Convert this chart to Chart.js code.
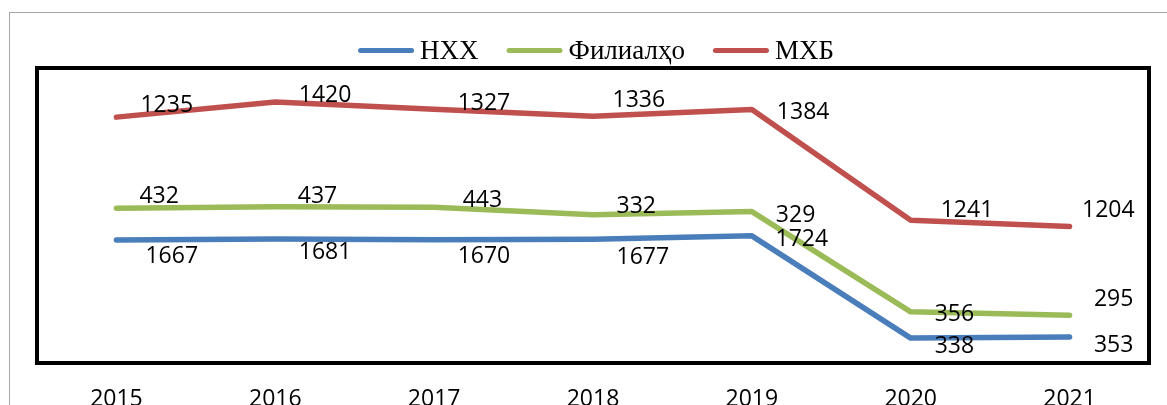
<!DOCTYPE html>
<html>
<head>
<meta charset="utf-8">
<script src="https://cdn.jsdelivr.net/npm/chart.js@4/dist/chart.umd.min.js"></script>
<style>
  html, body { margin: 0; padding: 0; background: #ffffff; }
  #wrap { width: 1167px; height: 405px; position: relative; }
</style>
</head>
<body>
<div id="wrap"><canvas id="c" width="1167" height="405"></canvas></div>
<script>
// ---- data ----
const categories = ['2015', '2016', '2017', '2018', '2019', '2020', '2021'];
const seriesNames = ['НХХ', 'Филиалҳо', 'МХБ'];
const nhhValues = [1667, 1681, 1670, 1677, 1724, 338, 353];
const filialValues = [432, 437, 443, 332, 329, 356, 295];
const mhbValues = [1235, 1420, 1327, 1336, 1384, 1241, 1204];
const yMin = 0;
const yMax = 4000;

// ---- styling ----
const colors = ['#4A7EBB', '#9BBB59', '#C0504D'];
const numFont = '23px "Open Sans"';
const legendFont = '27px "Liberation Serif"';
// label placement relative to each point: [dx to left edge, dy to text centre]
const labelOffsets = [
  [[29, 15], [23.5, 12], [23.5, 15], [23.5, 16], [23.7, 1.5], [24, 7], [24.4, 6.5]],
  [[23, -13], [22.5, -11.5], [28.5, -8], [23.5, -10], [24, 2], [24, 1], [24.4, -17]],
  [[24, -13], [23.5, -8.5], [23.5, -8], [19.5, -18], [25, 1.5], [30, -11], [12.5, -18]]
];

const framePlugin = {
  id: 'frame',
  afterDraw(chart) {
    const ctx = chart.ctx;
    const a = chart.chartArea;
    ctx.save();
    // outer thin grey border
    ctx.strokeStyle = '#a6a6a6';
    ctx.lineWidth = 1;
    ctx.strokeRect(9.5, 12.5, 1300, 600);
    // plot area frame
    ctx.strokeStyle = '#000000';
    ctx.lineWidth = 4;
    ctx.strokeRect(a.left, a.top, a.right - a.left, a.bottom - a.top);
    ctx.restore();
  }
};

const valueLabelPlugin = {
  id: 'valueLabels',
  afterDatasetsDraw(chart) {
    const ctx = chart.ctx;
    ctx.save();
    ctx.font = numFont;
    ctx.fillStyle = '#000000';
    ctx.textAlign = 'left';
    ctx.textBaseline = 'alphabetic';
    chart.data.datasets.forEach((ds, di) => {
      const meta = chart.getDatasetMeta(di);
      meta.data.forEach((el, i) => {
        const off = labelOffsets[di][i];
        ctx.fillText(String(ds.data[i]), el.x + off[0], el.y + off[1] + 8.2);
      });
    });
    ctx.restore();
  }
};

const legendPlugin = {
  id: 'customLegend',
  afterDraw(chart) {
    const ctx = chart.ctx;
    ctx.save();
    ctx.font = legendFont;
    const lineLen = 56, gapText = 6, gapItem = 28;
    const items = chart.data.datasets.map((ds, i) => ({
      label: ds.label, color: ds.borderColor, w: ctx.measureText(ds.label).width
    }));
    let total = 0;
    items.forEach((it, i) => { total += lineLen + gapText + it.w + (i < items.length - 1 ? gapItem : 0); });
    let x = 596 - total / 2;
    const lineY = 50.5, textY = 59;
    items.forEach((it) => {
      ctx.strokeStyle = it.color;
      ctx.lineWidth = 5;
      ctx.lineCap = 'round';
      ctx.beginPath();
      ctx.moveTo(x + 2.5, lineY);
      ctx.lineTo(x + lineLen - 2.5, lineY);
      ctx.stroke();
      ctx.fillStyle = '#000000';
      ctx.textAlign = 'left';
      ctx.textBaseline = 'alphabetic';
      ctx.fillText(it.label, x + lineLen + gapText, textY);
      x += lineLen + gapText + it.w + gapItem;
    });
    ctx.restore();
  }
};

const seriesValues = [nhhValues, filialValues, mhbValues];
const datasets = seriesNames.map((name, i) => ({
  label: name,
  data: seriesValues[i],
  borderColor: colors[i],
  backgroundColor: colors[i],
  borderWidth: 5.5,
  borderCapStyle: 'round',
  borderJoinStyle: 'round',
  pointRadius: 0,
  pointHoverRadius: 0,
  tension: 0,
  fill: false
}));

new Chart(document.getElementById('c'), {
  type: 'line',
  data: { labels: categories, datasets: datasets },
  options: {
    responsive: false,
    animation: false,
    events: [],
    layout: { padding: { left: 37, right: 18, top: 68, bottom: 0 } },
    plugins: {
      legend: { display: false },
      tooltip: { enabled: false },
      title: { display: false }
    },
    scales: {
      x: {
        type: 'category',
        offset: true,
        grid: { display: false, drawTicks: false },
        border: { display: false },
        ticks: {
          color: '#000000',
          font: { family: 'Open Sans', size: 23 },
          padding: 23,
          maxRotation: 0,
          autoSkip: false
        },
        afterFit(scale) { scale.height = 42; }
      },
      y: {
        display: false,
        stacked: true,
        min: yMin,
        max: yMax
      }
    }
  },
  plugins: [framePlugin, valueLabelPlugin, legendPlugin]
});
</script>
</body>
</html>
